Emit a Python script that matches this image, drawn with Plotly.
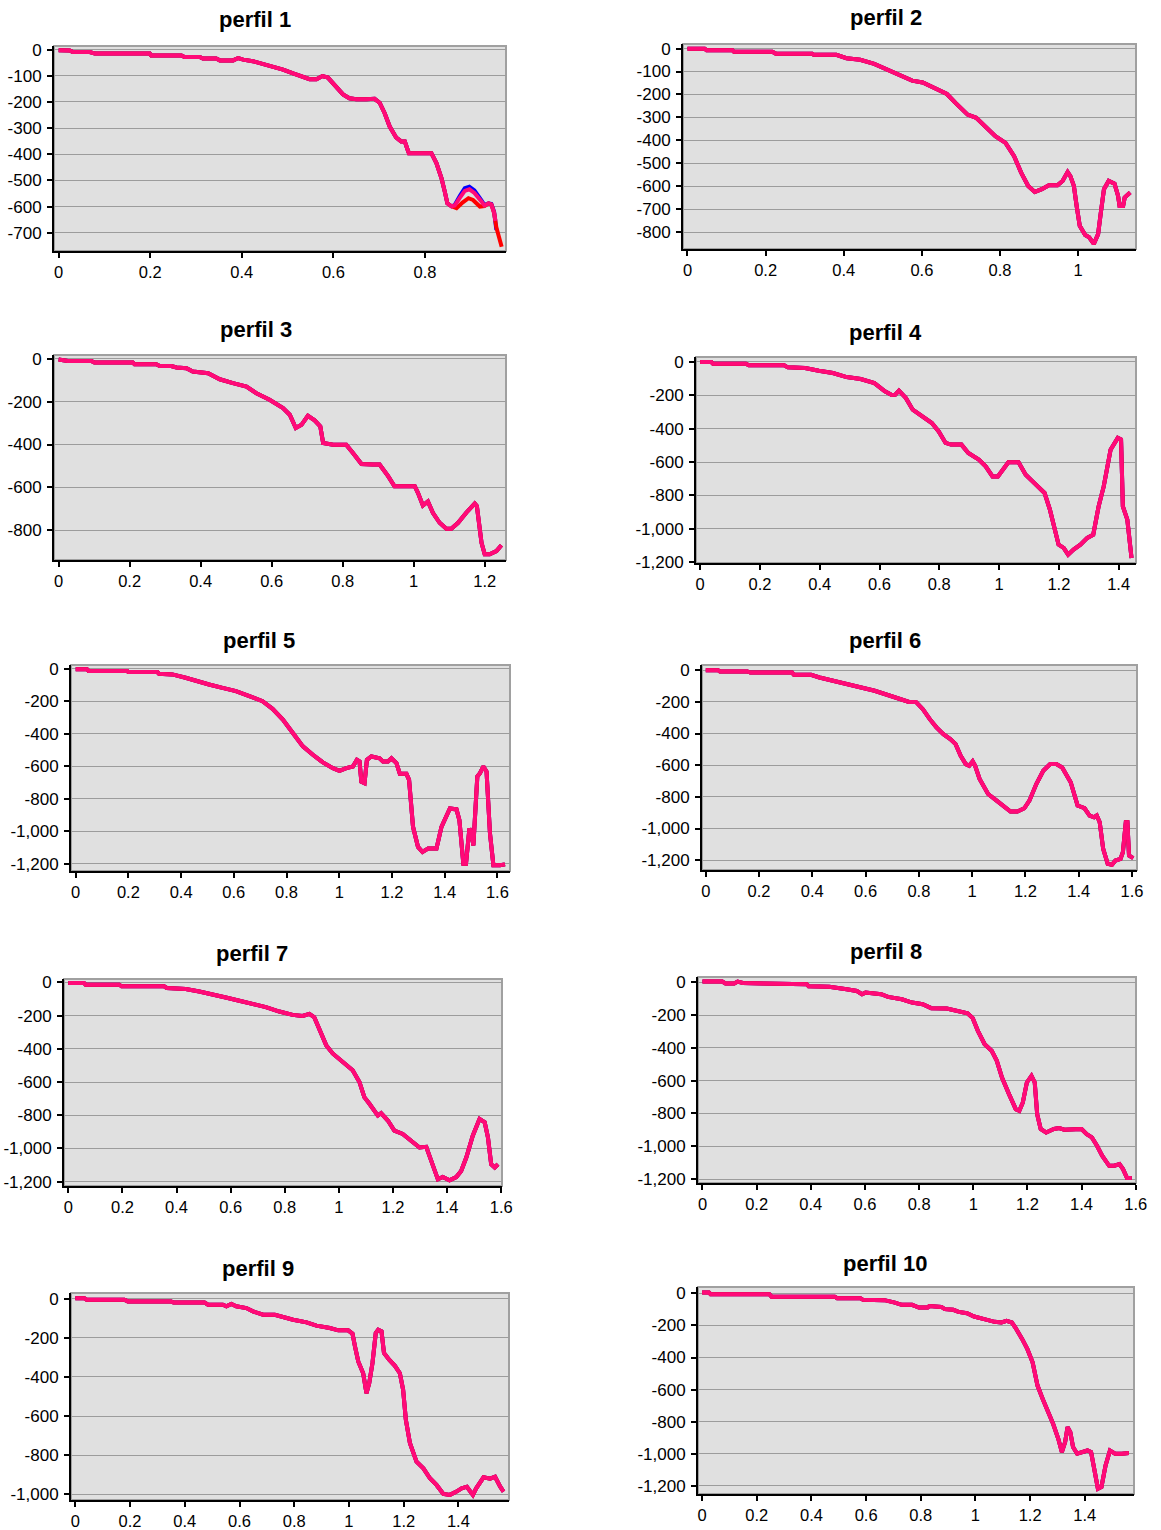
import plotly.graph_objects as go

# ---------------------------------------------------------------------------
# Profile data (distance along profile vs. depth) for each "perfil"
# ---------------------------------------------------------------------------
P1_X = [0, 0.024, 0.031, 0.068, 0.079, 0.199, 0.202, 0.268, 0.275, 0.308, 0.315,
        0.344, 0.352, 0.381, 0.392, 0.403, 0.424, 0.454, 0.49, 0.512, 0.534, 0.548,
        0.563, 0.576, 0.588, 0.603, 0.621, 0.635, 0.65, 0.672, 0.69, 0.701, 0.712,
        0.723, 0.737, 0.748, 0.756, 0.761, 0.765, 0.788, 0.814, 0.825, 0.836, 0.843,
        0.849, 0.858]
P1_Y = [-2, -3, -9, -9, -15, -15, -22, -22, -28, -28, -34, -34, -41, -41, -32, -38,
        -44, -57, -76, -91, -104, -113, -113, -101, -107, -136, -171, -186, -190,
        -190, -188, -203, -243, -294, -336, -351, -351, -377, -396, -396, -396, -434,
        -491, -541, -588, -599]
P1_PINK_TAIL_X = [0.865, 0.876, 0.887, 0.897, 0.908, 0.923, 0.93, 0.939, 0.945, 0.951, 0.954]
P1_PINK_TAIL_Y = [-596, -567, -540, -534, -548, -580, -596, -588, -592, -624, -655]
P1_BLUE_TAIL_X = [0.865, 0.876, 0.887, 0.897, 0.908, 0.923, 0.93, 0.939, 0.945, 0.951, 0.956]
P1_BLUE_TAIL_Y = [-594, -560, -530, -524, -538, -575, -594, -588, -590, -620, -690]
P1_RED_TAIL_X = [0.869, 0.882, 0.895, 0.905, 0.92, 0.93, 0.939, 0.945, 0.951, 0.956, 0.9675]
P1_RED_TAIL_Y = [-606, -585, -568, -575, -600, -598, -588, -592, -624, -680, -754]

P2_X = [0, 0.044, 0.049, 0.115, 0.119, 0.217, 0.226, 0.319, 0.323, 0.381, 0.407, 0.442,
        0.478, 0.513, 0.549, 0.575, 0.602, 0.637, 0.664, 0.686, 0.717, 0.739, 0.761,
        0.788, 0.814, 0.836, 0.854, 0.872, 0.889, 0.907, 0.925, 0.947, 0.96, 0.973,
        0.98, 0.989, 0.996, 1.004, 1.018, 1.028, 1.04, 1.051, 1.058, 1.066, 1.078,
        1.093, 1.102, 1.106, 1.115, 1.119, 1.133]
P2_Y = [-1, -1, -7, -7, -14, -14, -22, -22, -27, -27, -42, -49, -67, -93, -119, -140,
        -148, -176, -198, -237, -288, -302, -339, -382, -411, -469, -541, -599, -625,
        -613, -596, -596, -577, -538, -556, -599, -686, -773, -813, -823, -852, -809,
        -715, -613, -577, -589, -642, -686, -686, -650, -628]

P3_X = [0, 0.022, 0.026, 0.092, 0.101, 0.209, 0.214, 0.275, 0.285, 0.317, 0.332, 0.36,
        0.378, 0.421, 0.454, 0.491, 0.529, 0.557, 0.594, 0.632, 0.651, 0.668, 0.684,
        0.702, 0.721, 0.737, 0.745, 0.773, 0.81, 0.829, 0.853, 0.885, 0.904, 0.928,
        0.946, 0.965, 1.003, 1.012, 1.026, 1.04, 1.054, 1.073, 1.092, 1.106, 1.125,
        1.148, 1.172, 1.178, 1.191, 1.2, 1.214, 1.233, 1.247]
P3_Y = [-2, -5, -9, -9, -17, -17, -25, -25, -33, -33, -40, -43, -59, -67, -95, -113,
        -129, -160, -191, -230, -261, -323, -308, -266, -287, -315, -393, -401, -401,
        -440, -491, -494, -494, -548, -595, -595, -595, -626, -685, -666, -719, -766,
        -794, -794, -766, -719, -676, -688, -859, -913, -913, -898, -871]

P4_X = [0, 0.037, 0.043, 0.153, 0.163, 0.281, 0.293, 0.351, 0.397, 0.444, 0.49, 0.537,
        0.583, 0.618, 0.641, 0.653, 0.665, 0.688, 0.711, 0.746, 0.775, 0.798, 0.821,
        0.839, 0.874, 0.897, 0.932, 0.955, 0.978, 0.996, 1.013, 1.031, 1.065, 1.089,
        1.118, 1.152, 1.17, 1.187, 1.199, 1.216, 1.231, 1.249, 1.272, 1.295, 1.315,
        1.333, 1.35, 1.373, 1.397, 1.408, 1.414, 1.429, 1.443]
P4_Y = [-2, -2, -12, -12, -22, -22, -34, -38, -54, -68, -92, -104, -128, -177, -199,
        -197, -173, -217, -287, -327, -367, -417, -486, -496, -496, -546, -586, -626,
        -686, -686, -646, -602, -602, -676, -726, -785, -885, -1005, -1094, -1114,
        -1154, -1124, -1094, -1054, -1035, -865, -746, -526, -456, -466, -865, -945,
        -1174]

P5_X = [0, 0.043, 0.049, 0.195, 0.2, 0.31, 0.316, 0.367, 0.417, 0.468, 0.506, 0.557,
        0.608, 0.659, 0.709, 0.747, 0.786, 0.824, 0.862, 0.9, 0.938, 0.976, 1.001,
        1.027, 1.052, 1.067, 1.077, 1.084, 1.096, 1.105, 1.122, 1.153, 1.166, 1.185,
        1.198, 1.217, 1.23, 1.255, 1.265, 1.28, 1.299, 1.316, 1.337, 1.369, 1.388,
        1.42, 1.445, 1.456, 1.471, 1.481, 1.494, 1.502, 1.509, 1.524, 1.534, 1.547,
        1.559, 1.572, 1.585, 1.61, 1.629]
P5_Y = [-4, -4, -14, -14, -21, -21, -31, -35, -56, -76, -97, -118, -138, -169, -200,
        -247, -313, -396, -478, -530, -577, -612, -629, -612, -602, -561, -571, -695,
        -705, -561, -540, -551, -571, -571, -551, -581, -647, -647, -684, -973, -1097,
        -1128, -1107, -1107, -973, -860, -866, -932, -1200, -1200, -983, -1014, -1087,
        -664, -643, -602, -633, -1014, -1210, -1210, -1204]

P6_X = [0, 0.046, 0.053, 0.156, 0.167, 0.324, 0.331, 0.395, 0.427, 0.479, 0.531, 0.582,
        0.634, 0.686, 0.737, 0.763, 0.789, 0.815, 0.841, 0.866, 0.892, 0.918, 0.938,
        0.957, 0.976, 0.989, 1.002, 1.011, 1.028, 1.06, 1.092, 1.118, 1.144, 1.17,
        1.196, 1.215, 1.241, 1.267, 1.293, 1.316, 1.338, 1.37, 1.396, 1.422, 1.441,
        1.458, 1.468, 1.479, 1.492, 1.509, 1.525, 1.538, 1.557, 1.566, 1.577, 1.583,
        1.589, 1.605]
P6_Y = [0, 0, -8, -8, -15, -15, -29, -29, -46, -67, -88, -109, -130, -158, -183, -200,
        -200, -246, -309, -361, -404, -435, -467, -540, -593, -603, -576, -603, -687,
        -782, -824, -855, -893, -893, -872, -824, -719, -635, -593, -593, -614, -708,
        -855, -872, -918, -929, -918, -960, -1129, -1223, -1229, -1202, -1192, -1150,
        -960, -960, -1171, -1187]

P7_X = [0, 0.058, 0.064, 0.188, 0.197, 0.354, 0.364, 0.434, 0.484, 0.533, 0.582, 0.632,
        0.681, 0.73, 0.78, 0.829, 0.866, 0.891, 0.909, 0.928, 0.953, 0.977, 1.014,
        1.051, 1.076, 1.094, 1.113, 1.144, 1.156, 1.181, 1.205, 1.236, 1.267, 1.298,
        1.323, 1.341, 1.366, 1.384, 1.409, 1.434, 1.452, 1.471, 1.495, 1.52, 1.539,
        1.551, 1.563, 1.576, 1.588]
P7_Y = [-4, -4, -14, -14, -24, -24, -34, -40, -55, -71, -91, -111, -129, -149, -176,
        -196, -202, -190, -210, -287, -378, -428, -475, -529, -600, -691, -731, -802,
        -788, -832, -893, -913, -954, -994, -990, -1075, -1186, -1172, -1192, -1172,
        -1135, -1055, -923, -822, -842, -933, -1095, -1115, -1095]

P8_X = [0, 0.073, 0.085, 0.117, 0.13, 0.149, 0.226, 0.385, 0.392, 0.468, 0.532, 0.57,
        0.589, 0.602, 0.66, 0.685, 0.736, 0.774, 0.813, 0.845, 0.902, 0.947, 0.979,
        0.998, 1.017, 1.042, 1.068, 1.087, 1.106, 1.132, 1.157, 1.17, 1.183, 1.198,
        1.215, 1.227, 1.236, 1.249, 1.269, 1.298, 1.317, 1.336, 1.374, 1.4, 1.419,
        1.438, 1.457, 1.476, 1.502, 1.521, 1.54, 1.553, 1.568, 1.585]
P8_Y = [4, 4, -8, -8, 4, -4, -8, -12, -24, -28, -43, -53, -73, -63, -73, -89, -104,
        -124, -134, -158, -160, -179, -189, -219, -296, -378, -418, -479, -581, -682,
        -774, -784, -733, -611, -571, -611, -804, -895, -916, -895, -889, -899, -899,
        -895, -926, -946, -997, -1058, -1119, -1119, -1109, -1139, -1194, -1194]

P9_X = [0, 0.033, 0.041, 0.179, 0.192, 0.35, 0.359, 0.472, 0.485, 0.539, 0.552, 0.57,
        0.588, 0.625, 0.649, 0.686, 0.729, 0.759, 0.796, 0.845, 0.881, 0.93, 0.961,
        0.997, 1.013, 1.022, 1.034, 1.052, 1.064, 1.074, 1.086, 1.098, 1.107, 1.119,
        1.128, 1.147, 1.168, 1.186, 1.198, 1.208, 1.223, 1.247, 1.272, 1.296, 1.32,
        1.345, 1.369, 1.393, 1.412, 1.431, 1.453, 1.465, 1.492, 1.516, 1.534, 1.553,
        1.565]
P9_Y = [2, 2, -5, -5, -14, -14, -20, -20, -31, -31, -39, -27, -39, -48, -65, -82, -82,
        -96, -108, -121, -138, -150, -162, -162, -179, -244, -321, -381, -483, -432,
        -329, -176, -159, -167, -278, -312, -343, -381, -466, -619, -739, -833, -867,
        -918, -952, -998, -1003, -986, -969, -961, -1003, -969, -913, -920, -910, -961,
        -986]

P10_X = [0, 0.025, 0.031, 0.246, 0.254, 0.485, 0.494, 0.579, 0.589, 0.667, 0.705, 0.73,
         0.768, 0.793, 0.825, 0.831, 0.875, 0.888, 0.919, 0.938, 0.969, 0.995, 1.032,
         1.07, 1.095, 1.114, 1.133, 1.146, 1.171, 1.19, 1.209, 1.227, 1.246, 1.265,
         1.284, 1.303, 1.316, 1.328, 1.337, 1.347, 1.357, 1.372, 1.391, 1.41, 1.423,
         1.435, 1.448, 1.461, 1.476, 1.492, 1.511, 1.536, 1.561]
P10_Y = [4, 4, -6, -6, -21, -21, -31, -31, -41, -43, -58, -72, -72, -89, -89, -79, -85,
         -99, -103, -116, -124, -145, -161, -178, -182, -172, -182, -213, -286, -348,
         -430, -575, -658, -730, -813, -906, -989, -927, -834, -865, -958, -999, -989,
         -979, -989, -1113, -1217, -1206, -1072, -979, -999, -999, -995]

TITLES = ["perfil 1", "perfil 2", "perfil 3", "perfil 4", "perfil 5",
          "perfil 6", "perfil 7", "perfil 8", "perfil 9", "perfil 10"]

# tick values / labels
X_TICKS = [0, 0.2, 0.4, 0.6, 0.8, 1, 1.2, 1.4, 1.6]
X_LABELS = ["0", "0.2", "0.4", "0.6", "0.8", "1", "1.2", "1.4", "1.6"]
Y_TICKS_100 = [0, -100, -200, -300, -400, -500, -600, -700, -800]
Y_LABELS_100 = ["0", "-100", "-200", "-300", "-400", "-500", "-600", "-700", "-800"]
Y_TICKS_200 = [0, -200, -400, -600, -800, -1000, -1200]
Y_LABELS_200 = ["0", "-200", "-400", "-600", "-800", "-1,000", "-1,200"]

# ---------------------------------------------------------------------------
# Page geometry (pixels) and per-panel layout
# ---------------------------------------------------------------------------
W, H = 1161, 1530

# plot box: left, right, top, bottom (pixels)
BOXES = [(54, 506, 46, 251), (683, 1136, 44, 249),
         (54, 506, 355, 560), (696, 1136, 357, 563),
         (71, 510, 665, 871), (702, 1137, 665, 870),
         (64, 502, 979, 1186), (698, 1136, 977, 1183),
         (71, 509, 1293, 1500), (698, 1134, 1287, 1494)]
X_RANGES = [(-0.0102, 0.977), (-0.0115, 1.148), (-0.013, 1.26), (-0.0139, 1.458),
            (-0.0178, 1.648), (-0.0142, 1.619), (-0.016, 1.603), (-0.0166, 1.601),
            (-0.0159, 1.585), (-0.0151, 1.58)]
Y_RANGES = [(-770, 14), (-874, 20), (-940, 18.6), (-1204, 28), (-1245, 22.7),
            (-1262, 33), (-1226, 20), (-1224, 32), (-1029, 29), (-1250, 39)]
X_MAX_TICK = [0.8, 1.0, 1.2, 1.4, 1.6, 1.6, 1.6, 1.6, 1.4, 1.4]
Y_STEP = [100, 100, 200, 200, 200, 200, 200, 200, 200, 200]
Y_MIN_TICK = [-700, -800, -800, -1200, -1200, -1200, -1200, -1200, -1000, -1200]
TITLE_POS = [(255, 20), (886, 18), (256, 329), (885, 332), (259, 640),
             (885, 640), (252, 953), (886, 951), (258, 1268), (885, 1263)]

BLUE, RED, PINK = "#0000FF", "#FF0000", "#FF0A78"
FONT = "Arial, Liberation Sans, sans-serif"

profiles = [
    (P1_X, P1_Y), (P2_X, P2_Y), (P3_X, P3_Y), (P4_X, P4_Y), (P5_X, P5_Y),
    (P6_X, P6_Y), (P7_X, P7_Y), (P8_X, P8_Y), (P9_X, P9_Y), (P10_X, P10_Y),
]

fig = go.Figure()
layout = dict(
    width=W, height=H,
    margin=dict(l=0, r=0, t=0, b=0, pad=0, autoexpand=False),
    paper_bgcolor="white", showlegend=False,
    font=dict(family=FONT, size=17, color="black"),
    annotations=[], shapes=[],
)

for i, (px, py) in enumerate(profiles):
    n = i + 1
    xs = "" if n == 1 else str(n)
    xref, yref = "x" + xs, "y" + xs

    series = {}
    if n == 1:
        series["blue"] = (px + P1_BLUE_TAIL_X, py + P1_BLUE_TAIL_Y)
        series["red"] = (px + P1_RED_TAIL_X, py + P1_RED_TAIL_Y)
        series["pink"] = (px + P1_PINK_TAIL_X, py + P1_PINK_TAIL_Y)
    else:
        series["blue"] = (px, py)
        series["red"] = (px, py)
        series["pink"] = (px, py)

    for key, color, width in (("blue", BLUE, 4), ("red", RED, 4), ("pink", PINK, 4)):
        sx, sy = series[key]
        fig.add_trace(go.Scatter(x=sx, y=sy, mode="lines", xaxis=xref, yaxis=yref,
                                 line=dict(color=color, width=width),
                                 hoverinfo="skip"))

    L, R, T, B = BOXES[i]
    xt = [v for v in X_TICKS if v <= X_MAX_TICK[i] + 1e-9]
    xl = X_LABELS[:len(xt)]
    if Y_STEP[i] == 100:
        yt = [v for v in Y_TICKS_100 if v >= Y_MIN_TICK[i]]
        yl = Y_LABELS_100[:len(yt)]
    else:
        yt = [v for v in Y_TICKS_200 if v >= Y_MIN_TICK[i]]
        yl = Y_LABELS_200[:len(yt)]

    layout["xaxis" + xs] = dict(
        domain=[L / W, R / W], anchor=yref, range=list(X_RANGES[i]),
        tickmode="array", tickvals=xt, ticktext=xl, automargin=False,
        showgrid=False, zeroline=False, showline=True, linecolor="black",
        linewidth=2, ticks="outside", ticklen=5, tickwidth=1.5, tickcolor="black",
        ticklabelstandoff=0, tickfont=dict(size=16.5, family=FONT),
    )
    layout["yaxis" + xs] = dict(
        domain=[1 - B / H, 1 - T / H], anchor=xref, range=list(Y_RANGES[i]),
        tickmode="array", tickvals=yt, ticktext=yl, automargin=False,
        showgrid=True, gridcolor="#9C9C9C", gridwidth=1.2,
        zeroline=False, showline=True, linecolor="black", linewidth=2,
        ticks="outside", ticklen=5, tickwidth=1.5, tickcolor="black",
        ticklabelstandoff=2, tickfont=dict(size=17, family=FONT),
    )
    layout["shapes"].append(dict(
        type="rect", xref=xref + " domain", yref=yref + " domain",
        x0=0, x1=1, y0=0, y1=1, layer="below",
        line=dict(color="#A0A0A0", width=2), fillcolor="rgba(0,0,0,0)",
    ))
    tx, ty = TITLE_POS[i]
    layout["annotations"].append(dict(
        text=TITLES[i], xref="paper", yref="paper", x=tx / W, y=1 - ty / H,
        xanchor="center", yanchor="middle", showarrow=False,
        font=dict(family=FONT, size=22, color="black", weight="bold"),
    ))

layout["plot_bgcolor"] = "#E0E0E0"
fig.update_layout(**layout)

# keep the page exactly the figure's size (no default body margin / scrollbars)
page_css = ("document.body.style.margin='0';"
            "document.body.style.padding='0';"
            "document.body.style.overflow='hidden';"
            "document.documentElement.style.overflow='hidden';")
fig.write_html("out.html", config={"responsive": False}, post_script=page_css)
